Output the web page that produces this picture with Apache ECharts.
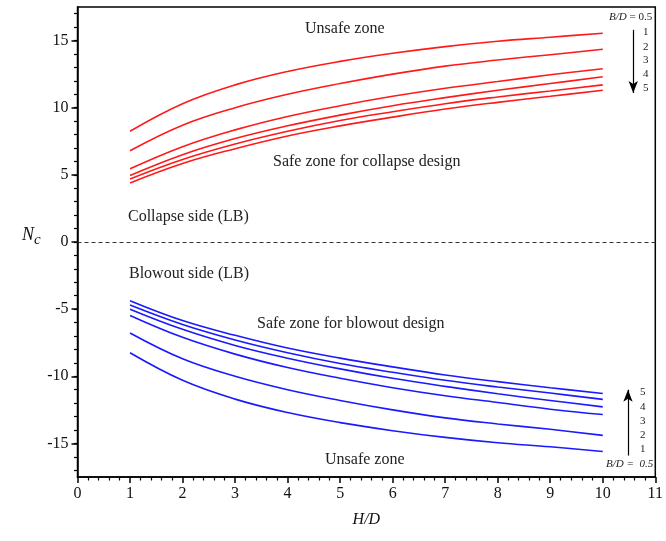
<!DOCTYPE html>
<html>
<head>
<meta charset="utf-8">
<script src="https://cdn.jsdelivr.net/npm/echarts@6/dist/echarts.min.js"></script>
<style>
  html, body { margin: 0; padding: 0; background: #fff; }
  #chart { width: 666px; height: 541px; }
</style>
</head>
<body>
<div id="chart"></div>
<script>
// H/D sample positions shared by every curve
const hd = [1, 2, 3, 4, 5, 6, 7, 8, 9, 10];

// B/D ratios of the six curves
const ratios = ['0.5', '1', '2', '3', '4', '5'];

// Collapse side (upper bound of Nc), one array per B/D
const collapse05 = [8.25, 10.30, 11.70, 12.70, 13.45, 14.05, 14.55, 14.95, 15.25, 15.55];
const collapse1  = [6.80, 8.70, 10.00, 11.00, 11.80, 12.50, 13.10, 13.55, 13.95, 14.35];
const collapse2  = [5.45, 7.10, 8.35, 9.35, 10.15, 10.85, 11.45, 11.95, 12.45, 12.90];
const collapse3  = [4.95, 6.50, 7.70, 8.65, 9.45, 10.15, 10.75, 11.30, 11.80, 12.30];
const collapse4  = [4.70, 6.15, 7.30, 8.25, 9.05, 9.70, 10.30, 10.80, 11.25, 11.70];
const collapse5  = [4.40, 5.85, 6.95, 7.90, 8.65, 9.30, 9.90, 10.40, 10.85, 11.30];

// Blowout side, one array per B/D
const blowout05 = [-8.25, -10.30, -11.70, -12.70, -13.45, -14.05, -14.55, -14.95, -15.25, -15.60];
const blowout1  = [-6.78, -8.70, -10.00, -11.00, -11.80, -12.50, -13.10, -13.55, -13.95, -14.40];
const blowout2  = [-5.47, -7.10, -8.35, -9.35, -10.15, -10.85, -11.45, -11.95, -12.45, -12.85];
const blowout3  = [-5.00, -6.50, -7.70, -8.65, -9.45, -10.15, -10.75, -11.30, -11.80, -12.28];
const blowout4  = [-4.70, -6.15, -7.30, -8.25, -9.05, -9.70, -10.30, -10.80, -11.25, -11.72];
const blowout5  = [-4.37, -5.85, -6.95, -7.90, -8.65, -9.30, -9.90, -10.40, -10.85, -11.28];

// Axis tick values
const yMajorTicks = [-15, -10, -5, 0, 5, 10, 15];
const yMinorTicks = [];
for (let v = -17; v <= 17; v++) yMinorTicks.push(v);

const serif = 'Liberation Serif';
const chart = echarts.init(document.getElementById('chart'));

const pair = (ys) => hd.map((x, i) => [x, ys[i]]);

function curve(name, ys, color) {
  return {
    name: name,
    type: 'line',
    data: pair(ys),
    smooth: 0.4,
    showSymbol: false,
    symbol: 'none',
    silent: true,
    lineStyle: { color: color, width: 1.6 },
    z: 3
  };
}

const RED = '#ff1a1a';
const BLUE = '#1a1aff';

const series = [
  curve('collapse B/D=0.5', collapse05, RED),
  curve('collapse B/D=1', collapse1, RED),
  curve('collapse B/D=2', collapse2, RED),
  curve('collapse B/D=3', collapse3, RED),
  curve('collapse B/D=4', collapse4, RED),
  curve('collapse B/D=5', collapse5, RED),
  curve('blowout B/D=0.5', blowout05, BLUE),
  curve('blowout B/D=1', blowout1, BLUE),
  curve('blowout B/D=2', blowout2, BLUE),
  curve('blowout B/D=3', blowout3, BLUE),
  curve('blowout B/D=4', blowout4, BLUE),
  curve('blowout B/D=5', blowout5, BLUE),
  // zero line and the two B/D direction arrows
  {
    type: 'line',
    data: [],
    silent: true,
    markLine: {
      silent: true,
      animation: false,
      label: { show: false },
      data: [
        [
          { coord: [0, 0], symbol: 'none', lineStyle: { type: [4, 3], color: '#333', width: 1 } },
          { coord: [11, 0], symbol: 'none' }
        ],
        [
          { coord: [10.58, 15.8], symbol: 'none', lineStyle: { type: 'solid', color: '#000', width: 1.2 } },
          { coord: [10.58, 11.1], symbol: 'arrow', symbolSize: [7, 12] }
        ],
        [
          { coord: [10.48, -15.9], symbol: 'none', lineStyle: { type: 'solid', color: '#000', width: 1.2 } },
          { coord: [10.48, -11.0], symbol: 'arrow', symbolSize: [7, 12] }
        ]
      ]
    }
  }
];

const zoneText = { fontFamily: serif, fontSize: 16, fill: '#222' };
const smallText = { fontFamily: serif, fontSize: 11, fill: '#222' };

const graphic = [
  { type: 'text', left: 305, top: 21, style: Object.assign({ text: 'Unsafe zone' }, zoneText) },
  { type: 'text', left: 273, top: 154, style: Object.assign({ text: 'Safe zone for collapse design' }, zoneText) },
  { type: 'text', left: 128, top: 209, style: Object.assign({ text: 'Collapse side (LB)' }, zoneText) },
  { type: 'text', left: 129, top: 266, style: Object.assign({ text: 'Blowout side (LB)' }, zoneText) },
  { type: 'text', left: 257, top: 316, style: Object.assign({ text: 'Safe zone for blowout design' }, zoneText) },
  { type: 'text', left: 325, top: 452, style: Object.assign({ text: 'Unsafe zone' }, zoneText) },
  // y-axis title N_c
  {
    type: 'text', left: 22, top: 226,
    style: {
      text: '{n|N}{c|c}',
      rich: {
        n: { fontFamily: serif, fontStyle: 'italic', fontSize: 18, fill: '#111' },
        c: { fontFamily: serif, fontStyle: 'italic', fontSize: 15, fill: '#111', padding: [10, 0, 0, 0] }
      }
    }
  },
  // upper B/D legend
  {
    type: 'text', left: 609, top: 12,
    style: {
      text: '{i|B/D} = 0.5',
      fontFamily: serif, fontSize: 11, fill: '#222',
      rich: { i: { fontFamily: serif, fontStyle: 'italic', fontSize: 11, fill: '#222' } }
    }
  },
  { type: 'text', left: 643, top: 27, style: Object.assign({ text: '1' }, smallText) },
  { type: 'text', left: 643, top: 42, style: Object.assign({ text: '2' }, smallText) },
  { type: 'text', left: 643, top: 55, style: Object.assign({ text: '3' }, smallText) },
  { type: 'text', left: 643, top: 69, style: Object.assign({ text: '4' }, smallText) },
  { type: 'text', left: 643, top: 83, style: Object.assign({ text: '5' }, smallText) },
  // lower B/D legend
  { type: 'text', left: 640, top: 387, style: Object.assign({ text: '5' }, smallText) },
  { type: 'text', left: 640, top: 402, style: Object.assign({ text: '4' }, smallText) },
  { type: 'text', left: 640, top: 416, style: Object.assign({ text: '3' }, smallText) },
  { type: 'text', left: 640, top: 430, style: Object.assign({ text: '2' }, smallText) },
  { type: 'text', left: 640, top: 444, style: Object.assign({ text: '1' }, smallText) },
  {
    type: 'text', left: 606, top: 459,
    style: {
      text: '{i|B/D =}  {i|0.5}',
      fontFamily: serif, fontSize: 11, fill: '#222',
      rich: { i: { fontFamily: serif, fontStyle: 'italic', fontSize: 11, fill: '#222' } }
    }
  }
];

chart.setOption({
  animation: false,
  backgroundColor: '#fff',
  grid: {
    left: 77.5, right: 8, top: 7, bottom: 64,
    show: true, borderColor: '#000', borderWidth: 1.5, backgroundColor: 'transparent'
  },
  xAxis: {
    type: 'value',
    min: 0, max: 11, interval: 1,
    name: 'H/D',
    nameLocation: 'middle',
    nameGap: 35,
    nameTextStyle: { fontFamily: serif, fontStyle: 'italic', fontSize: 16, color: '#111' },
    axisLine: { show: true, onZero: false, lineStyle: { color: '#000', width: 1.5 } },
    axisTick: { show: true, inside: false, length: 6, lineStyle: { color: '#000', width: 1.5 } },
    minorTick: { show: true, splitNumber: 5, length: 3.5, lineStyle: { color: '#000', width: 1.2 } },
    axisLabel: { fontFamily: serif, fontSize: 16, color: '#111', margin: 9 },
    splitLine: { show: false }
  },
  yAxis: [
    {
      type: 'value',
      min: -17.5, max: 17.5,
      axisLine: { show: true, onZero: false, lineStyle: { color: '#000', width: 1.5 } },
      axisTick: { show: true, inside: false, length: 6, customValues: yMajorTicks, lineStyle: { color: '#000', width: 1.5 } },
      axisLabel: { customValues: yMajorTicks, fontFamily: serif, fontSize: 16, color: '#111', margin: 9 },
      splitLine: { show: false }
    },
    {
      // minor ticks at every integer
      type: 'value',
      min: -17.5, max: 17.5,
      position: 'left',
      axisLine: { show: false },
      axisTick: { show: true, inside: false, length: 3.5, customValues: yMinorTicks, lineStyle: { color: '#000', width: 1.2 } },
      axisLabel: { show: false },
      splitLine: { show: false }
    }
  ],
  series: series,
  graphic: graphic
});
</script>
</body>
</html>
